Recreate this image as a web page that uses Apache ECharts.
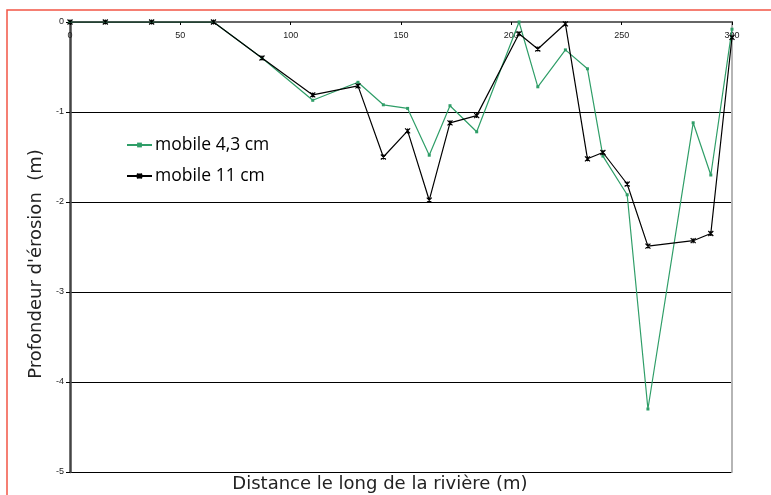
<!DOCTYPE html>
<html>
<head>
<meta charset="utf-8">
<script src="https://cdn.jsdelivr.net/npm/echarts@6/dist/echarts.min.js"></script>
<style>html,body{margin:0;padding:0;background:#fff;}#c{width:771px;height:495px;}</style>
</head>
<body>
<div id="c"></div>
<script>
const distances = [0, 16, 37, 65, 87, 110, 130.5, 142, 153, 162.8, 172.2, 184.3, 203.5, 212, 224.5, 234.5, 241.5, 252.5, 261.9, 282.4, 290.4, 300];
const mobile43 = [0, 0, 0, 0, -0.40, -0.87, -0.67, -0.92, -0.96, -1.48, -0.93, -1.22, 0.0, -0.72, -0.31, -0.52, -1.49, -1.92, -4.30, -1.12, -1.70, -0.08];
const mobile11 = [0, 0, 0, 0, -0.40, -0.81, -0.71, -1.50, -1.21, -1.98, -1.12, -1.04, -0.13, -0.30, -0.02, -1.52, -1.45, -1.80, -2.49, -2.43, -2.35, -0.17];
const xTicks = [0, 50, 100, 150, 200, 250, 300];
const yTicks = [0, -1, -2, -3, -4, -5];
const seriesNames = ['mobile 4,3 cm', 'mobile 11 cm'];
const xTitle = 'Distance le long de la rivière (m)';
const yTitle = "Profondeur d'érosion  (m)";

const pairs = (xs, ys) => xs.map((x, i) => [x, ys[i]]);
const star = 'path://M0,0L10,10M10,0L0,10M5,0L5,10';

const chart = echarts.init(document.getElementById('c'));
chart.setOption({
  animation: false,
  backgroundColor: '#fff',
  graphic: [{
    type: 'rect', shape: {x: 7, y: 10, width: 800, height: 600},
    style: {fill: 'none', stroke: '#f25545', lineWidth: 1.5}, z: -1
  }, {
    type: 'text', x: 36, y: 264, rotation: Math.PI / 2,
    style: {text: yTitle, fill: '#222', font: '18px "DejaVu Sans"', textAlign: 'center', textVerticalAlign: 'middle'}
  }, {
    type: 'text', x: 380, y: 484,
    style: {text: xTitle, fill: '#222', font: '18px "DejaVu Sans"', textAlign: 'center', textVerticalAlign: 'middle'}
  }],
  grid: {left: 70, right: 39, top: 22, bottom: 23},
  legend: {
    orient: 'vertical', left: 121, top: 131, itemGap: 13,
    itemWidth: 25, itemHeight: 6,
    textStyle: {fontFamily: 'Open Sans', fontSize: 17.5, color: '#000', padding: [0, 0, 0, -2]},
    data: seriesNames
  },
  xAxis: [{
    type: 'value', position: 'top', min: 0, max: 300, interval: 50,
    axisLine: {show: true, lineStyle: {color: '#000', width: 1.5}},
    axisTick: {show: true, inside: true, length: 3, lineStyle: {color: '#000'}},
    axisLabel: {inside: true, margin: 9, color: '#222', fontFamily: 'Liberation Sans', fontSize: 9,
      formatter: v => xTicks.includes(v) ? String(v) : ''},
    splitLine: {show: false}
  }, {
    type: 'value', position: 'bottom', min: 0, max: 300, interval: 50,
    axisLine: {show: true, lineStyle: {color: '#666', width: 2}},
    axisTick: {show: false}, axisLabel: {show: false}, splitLine: {show: false}
  }],
  yAxis: [{
    type: 'value', min: -5, max: 0, interval: 1,
    axisLine: {show: true, onZero: false, lineStyle: {color: '#444', width: 2.5}},
    axisTick: {show: true, length: 4, lineStyle: {color: '#000'}},
    axisLabel: {margin: 6, color: '#222', fontFamily: 'Liberation Sans', fontSize: 9,
      formatter: v => yTicks.includes(v) ? String(v) : ''},
    splitLine: {show: true, lineStyle: {color: '#000', width: 1.2}}
  }, {
    type: 'value', position: 'right', min: -5, max: 0, interval: 1,
    axisLine: {show: true, onZero: false, lineStyle: {color: '#b5b5b5', width: 2}},
    axisTick: {show: false}, axisLabel: {show: false}, splitLine: {show: false}
  }],
  series: [{
    name: seriesNames[0], type: 'line', data: pairs(distances, mobile43),
    symbol: 'rect', symbolSize: 3,
    lineStyle: {color: '#2f9e68', width: 1.2},
    itemStyle: {color: '#2f9e68'}, z: 3
  }, {
    name: seriesNames[1], type: 'line', data: pairs(distances, mobile11),
    symbol: star, symbolSize: 5,
    lineStyle: {color: '#000', width: 1.2},
    itemStyle: {color: '#000', borderColor: '#000', borderWidth: 1.2}, z: 4
  }]
});
</script>
</body>
</html>
